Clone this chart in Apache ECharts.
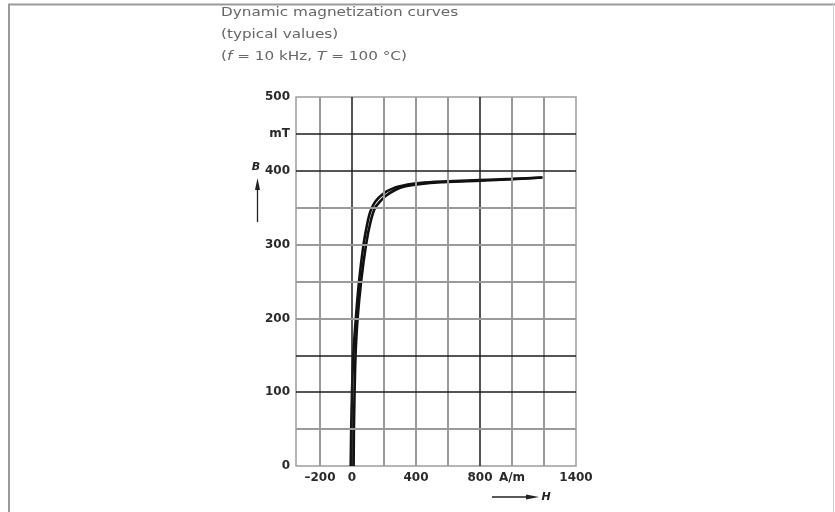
<!DOCTYPE html>
<html>
<head>
<meta charset="utf-8">
<script src="https://cdn.jsdelivr.net/npm/echarts@6/dist/echarts.min.js"></script>
<style>
  html, body { margin: 0; padding: 0; background: #fff; }
  #chart { width: 835px; height: 512px; }
</style>
</head>
<body>
<div id="chart"></div>
<script>
// Field strength H (A/m) and flux density B (mT) along the loop
const riseH = [10, 12, 16, 22, 35, 57, 88, 115, 145, 205, 270, 335, 420, 560, 800, 1000, 1190];
const riseB = [0, 50, 100, 150, 200, 250, 300, 330, 350, 365, 374, 379, 382, 384.5, 386.5, 388.5, 391];
const fallH = [1190, 1000, 800, 560, 420, 340, 260, 195, 145, 115, 97, 72, 44, 24, 8, 0, -5, -8];
const fallB = [391, 389, 387.5, 385.5, 383.5, 381, 376.5, 369, 358, 345, 330, 300, 250, 200, 150, 100, 50, 0];

// Grid lines and labelled ticks
const hGridLines = [-200, 0, 200, 400, 600, 800, 1000, 1200];
const bGridLines = [50, 100, 150, 200, 250, 300, 350, 400, 450];
const hLabelValues = [-200, 0, 400, 800, 1000, 1400];
const bLabelValues = [0, 100, 200, 300, 400, 450, 500];
const hUnitAt = 1000;   // tick carrying the "A/m" unit
const bUnitAt = 450;    // tick carrying the "mT" unit
const hDark = [0, 800];
const bDark = [100, 150, 400, 450];

const darkLine = { color: '#1c1c1c', width: 1.5, type: 'solid' };
const greyLine = { color: '#9a9a9a', width: 2, type: 'solid' };
const labelFont = { fontFamily: 'DejaVu Sans', fontSize: 12, fontWeight: 'bold', color: '#2a2a2a' };

const zip = (xs, ys) => xs.map((x, i) => [x, ys[i]]);

const gridMarks = [
  ...hGridLines.map(v => ({ xAxis: v, lineStyle: hDark.includes(v) ? darkLine : greyLine })),
  ...bGridLines.map(v => ({ yAxis: v, lineStyle: bDark.includes(v) ? darkLine : greyLine }))
];

const curveStyle = { color: '#111', width: 2.6 };

const chart = echarts.init(document.getElementById('chart'), null, { renderer: 'canvas' });
chart.setOption({
  animation: false,
  backgroundColor: '#fff',
  grid: {
    left: 296, right: 259, top: 97, bottom: 46,
    show: true, borderColor: '#9d9d9d', borderWidth: 1.5, backgroundColor: 'transparent'
  },
  xAxis: {
    type: 'value', min: -350, max: 1400,
    axisLine: { show: false }, axisTick: { show: false }, splitLine: { show: false },
    axisLabel: Object.assign({
      customValues: hLabelValues, margin: 6,
      formatter: v => v === hUnitAt ? 'A/m' : (v < 0 ? '\u2013' + Math.abs(v) : String(v))
    }, labelFont)
  },
  yAxis: {
    type: 'value', min: 0, max: 500,
    axisLine: { show: false }, axisTick: { show: false }, splitLine: { show: false },
    axisLabel: Object.assign({
      customValues: bLabelValues, margin: 6,
      formatter: v => v === bUnitAt ? 'mT' : String(v)
    }, labelFont)
  },
  series: [
    {
      name: 'grid', type: 'line', data: [], z: 1, silent: true,
      markLine: { symbol: 'none', silent: true, animation: false, label: { show: false }, data: gridMarks }
    },
    {
      name: 'rising', type: 'line', z: 3, data: zip(riseH, riseB), showSymbol: false,
      smooth: 0.2, lineStyle: curveStyle
    },
    {
      name: 'falling', type: 'line', z: 3, data: zip(fallH, fallB), showSymbol: false,
      smooth: 0.2, lineStyle: curveStyle
    }
  ],
  graphic: [
    // page frame
    { type: 'line', shape: { x1: 8, y1: 4.5, x2: 835, y2: 4.5 }, style: { stroke: '#9a9a9a', lineWidth: 2 } },
    { type: 'line', shape: { x1: 9, y1: 4, x2: 9, y2: 512 }, style: { stroke: '#9a9a9a', lineWidth: 2 } },
    { type: 'line', shape: { x1: 833.5, y1: 4, x2: 833.5, y2: 512 }, style: { stroke: '#d0d0d0', lineWidth: 1 } },
    // heading
    {
      type: 'group', x: 221, y: 0, scaleX: 1.27,
      children: [
        { type: 'text', style: { x: 0, y: 13, text: 'Dynamic magnetization curves', font: '12px "DejaVu Sans"', fill: '#666', verticalAlign: 'middle' } },
        { type: 'text', style: { x: 0, y: 35, text: '(typical values)', font: '12px "DejaVu Sans"', fill: '#666', verticalAlign: 'middle' } },
        {
          type: 'text',
          style: {
            x: 0, y: 57, text: '({i|f} = 10 kHz, {i|T} = 100 \u00b0C)',
            font: '12px "DejaVu Sans"', fill: '#666', verticalAlign: 'middle',
            rich: { i: { fontStyle: 'italic', fontFamily: 'DejaVu Sans', fontSize: 12, fill: '#666' } }
          }
        }
      ]
    },
    // B axis symbol with arrow
    { type: 'text', style: { x: 256, y: 167, text: 'B', font: 'italic bold 11px "DejaVu Sans"', fill: '#222', align: 'center', verticalAlign: 'middle' } },
    { type: 'line', shape: { x1: 257.5, y1: 222, x2: 257.5, y2: 184 }, style: { stroke: '#222', lineWidth: 1.3 } },
    { type: 'polygon', shape: { points: [[255, 190], [257.5, 178], [260, 190]] }, style: { fill: '#222' } },
    // H axis symbol with arrow
    { type: 'line', shape: { x1: 492, y1: 497, x2: 530, y2: 497 }, style: { stroke: '#222', lineWidth: 1.3 } },
    { type: 'polygon', shape: { points: [[526, 494.5], [539, 497], [526, 499.5]] }, style: { fill: '#222' } },
    { type: 'text', style: { x: 546, y: 497, text: 'H', font: 'italic bold 11px "DejaVu Sans"', fill: '#222', align: 'center', verticalAlign: 'middle' } }
  ]
});
</script>
</body>
</html>
